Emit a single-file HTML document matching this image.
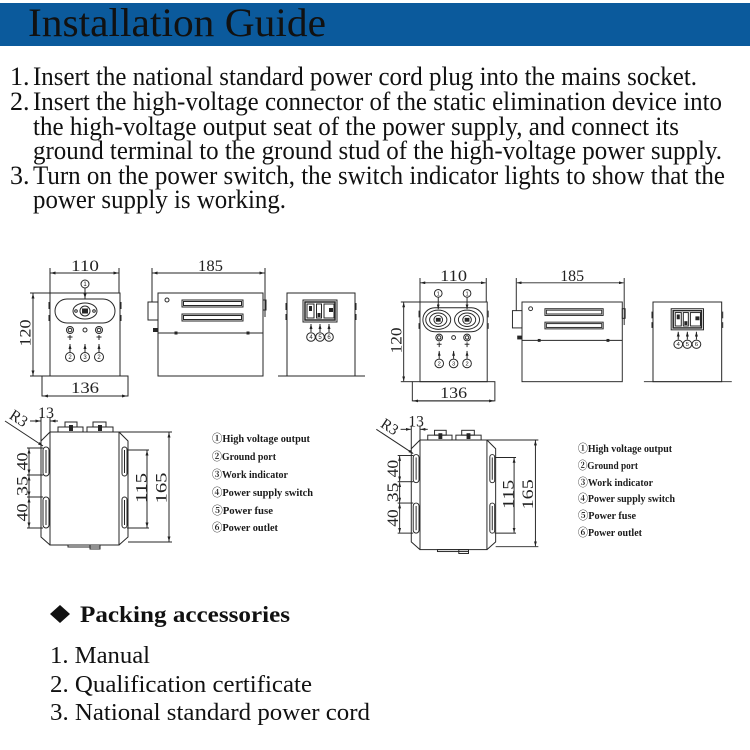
<!DOCTYPE html>
<html><head><meta charset="utf-8">
<style>
html,body{margin:0;padding:0;background:#fff;}
svg{display:block}
.t{font-family:"Liberation Serif","Noto Serif CJK SC",serif;fill:#111}
.g{font-family:"Liberation Serif","Noto Serif CJK SC",serif;fill:#1a1a1a;font-weight:bold;font-size:11px}
.d{font-family:"Liberation Serif",serif;fill:#222;font-size:16px}
.n{font-family:"Liberation Sans",sans-serif;fill:#222;font-size:6px;text-anchor:middle}
.l{fill:none;stroke:#262626;stroke-width:1}
.f{fill:#262626;stroke:none}
</style></head><body>
<svg width="750" height="750" viewBox="0 0 750 750" xmlns="http://www.w3.org/2000/svg">
<defs>
<marker id="ar" markerWidth="5" markerHeight="3" refX="5" refY="1.5" orient="auto-start-reverse" markerUnits="userSpaceOnUse"><path d="M0,0 L5,1.5 L0,3z" fill="#222"/></marker>
</defs>

<!-- Header -->
<rect x="0" y="3" width="750" height="43" fill="#0b5a9c"/>
<text class="t" x="28" y="36" font-size="40" textLength="298" lengthAdjust="spacingAndGlyphs">Installation Guide</text>

<!-- Instructions -->
<g class="t" font-size="26">
<text x="10" y="85">1.</text>
<text x="33" y="85" textLength="664" lengthAdjust="spacingAndGlyphs">Insert the national standard power cord plug into the mains socket.</text>
<text x="10" y="110">2.</text>
<text x="33" y="110" textLength="689" lengthAdjust="spacingAndGlyphs">Insert the high-voltage connector of the static elimination device into</text>
<text x="33" y="135" textLength="646" lengthAdjust="spacingAndGlyphs">the high-voltage output seat of the power supply, and connect its</text>
<text x="33" y="159" textLength="689" lengthAdjust="spacingAndGlyphs">ground terminal to the ground stud of the high-voltage power supply.</text>
<text x="10" y="184">3.</text>
<text x="33" y="184" textLength="692" lengthAdjust="spacingAndGlyphs">Turn on the power switch, the switch indicator lights to show that the</text>
<text x="33" y="208" textLength="253" lengthAdjust="spacingAndGlyphs">power supply is working.</text>
</g>

<!-- ===== LEFT FRONT VIEW ===== -->
<g transform="translate(50,293)">
 <g class="l">
  <line x1="0" y1="-25" x2="0" y2="0"/>
  <line x1="69" y1="-25" x2="69" y2="0"/>
  <line x1="0.5" y1="-20" x2="68.5" y2="-20" marker-start="url(#ar)" marker-end="url(#ar)"/>
  <line x1="-20" y1="0" x2="0" y2="0"/>
  <line x1="-20" y1="83" x2="-8" y2="83"/>
  <line x1="-17" y1="0.5" x2="-17" y2="82.5" marker-start="url(#ar)" marker-end="url(#ar)"/>
  <rect x="0" y="0" width="70" height="83"/>
  <rect x="-8" y="83" width="86" height="20"/>
  <line x1="-7" y1="103" x2="77" y2="103" marker-start="url(#ar)" marker-end="url(#ar)"/>
  <line x1="-1" y1="9" x2="-1" y2="16"/><line x1="-1" y1="22" x2="-1" y2="28"/>
  <line x1="71" y1="9" x2="71" y2="16"/><line x1="71" y1="22" x2="71" y2="28"/>
  <rect x="5" y="6" width="60" height="24" rx="12"/>
  <ellipse cx="35" cy="18" rx="12" ry="8"/>
  <circle cx="35" cy="18" r="5"/>
  <circle cx="26" cy="18" r="1.3"/><circle cx="44" cy="18" r="1.3"/>
  <circle cx="35" cy="-9" r="4"/>
  <line x1="35" y1="-5" x2="35" y2="5.5" marker-end="url(#ar)"/>
  <circle cx="20" cy="37" r="3.5"/><circle cx="20" cy="37" r="1.8"/>
  <circle cx="35" cy="37" r="2"/>
  <circle cx="49" cy="37" r="3.5"/><circle cx="49" cy="37" r="1.8"/>
  <line x1="20" y1="42" x2="20" y2="47"/><line x1="17.5" y1="44" x2="22.5" y2="44"/>
  <line x1="49" y1="42" x2="49" y2="47"/><line x1="46.5" y1="44" x2="51.5" y2="44"/>
  <line x1="20" y1="51" x2="20" y2="59" marker-start="url(#ar)"/>
  <line x1="35" y1="51" x2="35" y2="59" marker-start="url(#ar)"/>
  <line x1="49" y1="51" x2="49" y2="59" marker-start="url(#ar)"/>
  <circle cx="20" cy="64" r="4.5"/><circle cx="35" cy="64" r="4.5"/><circle cx="49" cy="64" r="4.5"/>
 </g>
 <rect class="f" x="32" y="15.5" width="6" height="5"/>
 <text class="n" x="35" y="-7">1</text>
 <text class="n" x="20" y="66">2</text><text class="n" x="35" y="66">3</text><text class="n" x="49" y="66">2</text>
 <text class="d" x="21" y="-22" textLength="28" lengthAdjust="spacingAndGlyphs">110</text>
 <text class="d" x="21" y="100" textLength="28" lengthAdjust="spacingAndGlyphs">136</text>
 <text class="d" transform="translate(-19.5,40) rotate(-90)" x="-13.5" y="0" textLength="27" lengthAdjust="spacingAndGlyphs">120</text>
</g>

<!-- ===== RIGHT FRONT VIEW ===== -->
<g transform="translate(420,302) scale(0.96)">
 <g class="l">
  <line x1="0" y1="-25" x2="0" y2="0"/>
  <line x1="69" y1="-25" x2="69" y2="0"/>
  <line x1="0.5" y1="-20" x2="68.5" y2="-20" marker-start="url(#ar)" marker-end="url(#ar)"/>
  <line x1="-20" y1="0" x2="0" y2="0"/>
  <line x1="-20" y1="83" x2="-8" y2="83"/>
  <line x1="-17" y1="0.5" x2="-17" y2="82.5" marker-start="url(#ar)" marker-end="url(#ar)"/>
  <rect x="0" y="0" width="70" height="83"/>
  <rect x="-8" y="83" width="86" height="20"/>
  <line x1="-7" y1="103" x2="77" y2="103" marker-start="url(#ar)" marker-end="url(#ar)"/>
  <line x1="-1" y1="9" x2="-1" y2="16"/><line x1="-1" y1="22" x2="-1" y2="28"/>
  <line x1="71" y1="9" x2="71" y2="16"/><line x1="71" y1="22" x2="71" y2="28"/>
  <rect x="3" y="6" width="63" height="25" rx="12.5"/>
  <ellipse cx="19" cy="18.5" rx="13" ry="10"/><ellipse cx="19" cy="18.5" rx="9" ry="7"/><circle cx="19" cy="18.5" r="4.5"/>
  <ellipse cx="49" cy="18.5" rx="13" ry="10"/><ellipse cx="49" cy="18.5" rx="9" ry="7"/><circle cx="49" cy="18.5" r="4.5"/>
  <circle cx="19" cy="-9" r="4"/><circle cx="49" cy="-9" r="4"/>
  <line x1="19" y1="-5" x2="19" y2="7.5" marker-end="url(#ar)"/>
  <line x1="49" y1="-5" x2="49" y2="7.5" marker-end="url(#ar)"/>
  <circle cx="20" cy="37" r="3.5"/><circle cx="20" cy="37" r="1.8"/>
  <circle cx="35" cy="37" r="2"/>
  <circle cx="49" cy="37" r="3.5"/><circle cx="49" cy="37" r="1.8"/>
  <line x1="20" y1="42" x2="20" y2="47"/><line x1="17.5" y1="44" x2="22.5" y2="44"/>
  <line x1="49" y1="42" x2="49" y2="47"/><line x1="46.5" y1="44" x2="51.5" y2="44"/>
  <line x1="20" y1="51" x2="20" y2="59" marker-start="url(#ar)"/>
  <line x1="35" y1="51" x2="35" y2="59" marker-start="url(#ar)"/>
  <line x1="49" y1="51" x2="49" y2="59" marker-start="url(#ar)"/>
  <circle cx="20" cy="64" r="4.5"/><circle cx="35" cy="64" r="4.5"/><circle cx="49" cy="64" r="4.5"/>
 </g>
 <rect class="f" x="16.5" y="16.5" width="5" height="4"/>
 <rect class="f" x="46.5" y="16.5" width="5" height="4"/>
 <text class="n" x="19" y="-7">1</text><text class="n" x="49" y="-7">1</text>
 <text class="n" x="20" y="66">2</text><text class="n" x="35" y="66">3</text><text class="n" x="49" y="66">2</text>
 <text class="d" x="21" y="-22" textLength="28" lengthAdjust="spacingAndGlyphs">110</text>
 <text class="d" x="21" y="100" textLength="28" lengthAdjust="spacingAndGlyphs">136</text>
 <text class="d" transform="translate(-19.5,40) rotate(-90)" x="-13.5" y="0" textLength="27" lengthAdjust="spacingAndGlyphs">120</text>
</g>

<!-- ===== SIDE VIEWS ===== -->
<g transform="translate(158,293)">
 <g class="l">
  <line x1="-6" y1="-25" x2="-6" y2="9"/>
  <line x1="107" y1="-25" x2="107" y2="24"/>
  <line x1="-5.5" y1="-20" x2="106.5" y2="-20" marker-start="url(#ar)" marker-end="url(#ar)"/>
  <rect x="0" y="0" width="105" height="83"/>
  <line x1="0" y1="40" x2="105" y2="40"/>
  <rect x="-10" y="9" width="10" height="18"/>
  <rect x="24" y="7" width="61" height="7"/><rect x="25.5" y="8.5" width="58" height="4"/>
  <rect x="24" y="21" width="61" height="7"/><rect x="25.5" y="22.5" width="58" height="4"/>
  <circle cx="9" cy="7" r="2"/>
  <rect x="105" y="7" width="3" height="10"/>
 </g>
 <rect class="f" x="-5" y="35" width="5" height="4"/>
 <rect class="f" x="16.5" y="38.5" width="3" height="3"/>
 <rect class="f" x="88.5" y="38.5" width="3" height="3"/>
 <text class="d" x="40" y="-22" textLength="25" lengthAdjust="spacingAndGlyphs">185</text>
</g>
<g transform="translate(522,302) scale(0.955,0.96)">
 <g class="l">
  <line x1="-6" y1="-25" x2="-6" y2="9"/>
  <line x1="107" y1="-25" x2="107" y2="24"/>
  <line x1="-5.5" y1="-20" x2="106.5" y2="-20" marker-start="url(#ar)" marker-end="url(#ar)"/>
  <rect x="0" y="0" width="105" height="83"/>
  <line x1="0" y1="40" x2="105" y2="40"/>
  <rect x="-10" y="9" width="10" height="18"/>
  <rect x="24" y="7" width="61" height="7"/><rect x="25.5" y="8.5" width="58" height="4"/>
  <rect x="24" y="21" width="61" height="7"/><rect x="25.5" y="22.5" width="58" height="4"/>
  <circle cx="9" cy="7" r="2"/>
  <rect x="105" y="7" width="3" height="10"/>
 </g>
 <rect class="f" x="-5" y="35" width="5" height="4"/>
 <rect class="f" x="16.5" y="38.5" width="3" height="3"/>
 <rect class="f" x="88.5" y="38.5" width="3" height="3"/>
 <text class="d" x="40" y="-22" textLength="25" lengthAdjust="spacingAndGlyphs">185</text>
</g>

<!-- ===== REAR VIEWS ===== -->
<g transform="translate(287,293)">
 <g class="l">
  <rect x="0" y="0" width="68" height="83"/>
  <line x1="-9" y1="83" x2="78" y2="83"/>
  <rect x="16" y="7" width="34" height="22"/>
  <rect x="18" y="9" width="30" height="18" stroke-width="1.5"/>
  <rect x="20" y="11" width="7" height="14"/>
  <rect x="29.5" y="11" width="5" height="14"/>
  <rect x="37" y="11" width="10" height="14"/>
  <line x1="24" y1="31" x2="24" y2="39" marker-start="url(#ar)"/>
  <line x1="33" y1="31" x2="33" y2="39" marker-start="url(#ar)"/>
  <line x1="42" y1="31" x2="42" y2="39" marker-start="url(#ar)"/>
  <circle cx="24" cy="44" r="4.3"/><circle cx="33" cy="44" r="4.3"/><circle cx="42" cy="44" r="4.3"/>
  <line x1="-1" y1="10" x2="-1" y2="17"/><line x1="-1" y1="21" x2="-1" y2="27"/>
  <line x1="69" y1="10" x2="69" y2="17"/><line x1="69" y1="21" x2="69" y2="27"/>
 </g>
 <rect class="f" x="22" y="13" width="3" height="5"/>
 <rect class="f" x="30.5" y="20" width="3" height="4"/>
 <rect class="f" x="42" y="15" width="4" height="4"/>
 <text class="n" x="24" y="46">4</text><text class="n" x="33" y="46">5</text><text class="n" x="42" y="46">6</text>
</g>
<g transform="translate(653,302) scale(1.01,0.96)">
 <g class="l">
  <rect x="0" y="0" width="68" height="83"/>
  <line x1="-9" y1="83" x2="78" y2="83"/>
  <rect x="18" y="7" width="32" height="22"/>
  <rect x="20" y="9" width="28" height="18" stroke-width="1.5"/>
  <rect x="22" y="11" width="6" height="14"/>
  <rect x="30" y="11" width="5" height="14"/>
  <rect x="37" y="11" width="10" height="14"/>
  <line x1="25" y1="31" x2="25" y2="39" marker-start="url(#ar)"/>
  <line x1="34" y1="31" x2="34" y2="39" marker-start="url(#ar)"/>
  <line x1="43" y1="31" x2="43" y2="39" marker-start="url(#ar)"/>
  <circle cx="25" cy="44" r="4.3"/><circle cx="34" cy="44" r="4.3"/><circle cx="43" cy="44" r="4.3"/>
  <line x1="-1" y1="10" x2="-1" y2="17"/><line x1="-1" y1="21" x2="-1" y2="27"/>
  <line x1="69" y1="10" x2="69" y2="17"/><line x1="69" y1="21" x2="69" y2="27"/>
 </g>
 <rect class="f" x="23.5" y="13" width="3" height="5"/>
 <rect class="f" x="31" y="20" width="3" height="4"/>
 <rect class="f" x="42" y="15" width="4" height="4"/>
 <text class="n" x="25" y="46">4</text><text class="n" x="34" y="46">5</text><text class="n" x="43" y="46">6</text>
</g>

<!-- ===== TOP VIEWS ===== -->
<g transform="translate(50,432)">
 <g class="l">
  <rect x="0" y="0" width="69" height="113"/>
  <polyline points="0,0 -9,9 -9,105 0,113"/>
  <polyline points="69,0 78,9 78,105 69,113"/>
  <rect x="8" y="-5" width="25" height="5"/><rect x="15" y="-10" width="12" height="5"/>
  <rect x="37" y="-5" width="26" height="5"/><rect x="43" y="-10" width="13" height="5"/>
  <rect x="18" y="113" width="32" height="2"/><rect x="40" y="113" width="10" height="4"/>
  <rect x="-7" y="15" width="6" height="29" rx="3"/><line x1="-4" y1="18" x2="-4" y2="41"/>
  <rect x="-7" y="65" width="6" height="31" rx="3"/><line x1="-4" y1="68" x2="-4" y2="93"/>
  <rect x="72" y="15" width="5" height="29" rx="2.5"/><line x1="74.5" y1="18" x2="74.5" y2="41"/>
  <rect x="72" y="65" width="5" height="31" rx="2.5"/><line x1="74.5" y1="68" x2="74.5" y2="93"/>
  <line x1="-23" y1="16" x2="-7" y2="16"/><line x1="-23" y1="43" x2="-7" y2="43"/>
  <line x1="-23" y1="65" x2="-7" y2="65"/><line x1="-23" y1="96" x2="-7" y2="96"/>
  <line x1="-21" y1="16.5" x2="-21" y2="42.5" marker-start="url(#ar)" marker-end="url(#ar)"/>
  <line x1="-21" y1="43.5" x2="-21" y2="64.5" marker-start="url(#ar)" marker-end="url(#ar)"/>
  <line x1="-21" y1="65.5" x2="-21" y2="95.5" marker-start="url(#ar)" marker-end="url(#ar)"/>
  <line x1="77" y1="18" x2="99" y2="18"/><line x1="77" y1="96" x2="99" y2="96"/>
  <line x1="97" y1="18.5" x2="97" y2="95.5" marker-start="url(#ar)" marker-end="url(#ar)"/>
  <line x1="69" y1="0" x2="122" y2="0"/><line x1="78" y1="110" x2="122" y2="110"/>
  <line x1="119" y1="0.5" x2="119" y2="109.5" marker-start="url(#ar)" marker-end="url(#ar)"/>
  <line x1="-9" y1="-15" x2="-9" y2="9"/><line x1="0" y1="-15" x2="0" y2="0"/>
  <line x1="-20" y1="-11" x2="-9.5" y2="-11" marker-end="url(#ar)"/>
  <line x1="8" y1="-11" x2="0.5" y2="-11" marker-end="url(#ar)"/>
  <line x1="-45" y1="-11" x2="-7" y2="14" marker-end="url(#ar)"/>
 </g>
 <rect class="f" x="19" y="-7" width="4" height="6"/>
 <rect class="f" x="48" y="-7" width="4" height="6"/>
 <text class="d" x="-12" y="-14" textLength="16" lengthAdjust="spacingAndGlyphs">13</text>
 <text class="d" transform="translate(-33,-11) rotate(33)" x="-9" y="2" textLength="18" lengthAdjust="spacingAndGlyphs">R3</text>
 <text class="d" transform="translate(-22.5,29.5) rotate(-90)" x="-9" y="0" textLength="18" lengthAdjust="spacingAndGlyphs">40</text>
 <text class="d" transform="translate(-22.5,54) rotate(-90)" x="-10" y="0" textLength="20" lengthAdjust="spacingAndGlyphs">35</text>
 <text class="d" transform="translate(-22.5,80.5) rotate(-90)" x="-9" y="0" textLength="18" lengthAdjust="spacingAndGlyphs">40</text>
 <text class="d" transform="translate(96.5,56) rotate(-90)" x="-15" y="0" textLength="30" lengthAdjust="spacingAndGlyphs">115</text>
 <text class="d" transform="translate(116.5,56) rotate(-90)" x="-15.5" y="0" textLength="31" lengthAdjust="spacingAndGlyphs">165</text>
</g>
<g transform="translate(420,440) scale(0.97)">
 <g class="l">
  <rect x="0" y="0" width="69" height="113"/>
  <polyline points="0,0 -9,9 -9,105 0,113"/>
  <polyline points="69,0 78,9 78,105 69,113"/>
  <rect x="8" y="-5" width="25" height="5"/><rect x="15" y="-10" width="12" height="5"/>
  <rect x="37" y="-5" width="26" height="5"/><rect x="43" y="-10" width="13" height="5"/>
  <rect x="18" y="113" width="32" height="2"/><rect x="40" y="113" width="10" height="4"/>
  <rect x="-7" y="15" width="6" height="29" rx="3"/><line x1="-4" y1="18" x2="-4" y2="41"/>
  <rect x="-7" y="65" width="6" height="31" rx="3"/><line x1="-4" y1="68" x2="-4" y2="93"/>
  <rect x="72" y="15" width="5" height="29" rx="2.5"/><line x1="74.5" y1="18" x2="74.5" y2="41"/>
  <rect x="72" y="65" width="5" height="31" rx="2.5"/><line x1="74.5" y1="68" x2="74.5" y2="93"/>
  <line x1="-23" y1="16" x2="-7" y2="16"/><line x1="-23" y1="43" x2="-7" y2="43"/>
  <line x1="-23" y1="65" x2="-7" y2="65"/><line x1="-23" y1="96" x2="-7" y2="96"/>
  <line x1="-21" y1="16.5" x2="-21" y2="42.5" marker-start="url(#ar)" marker-end="url(#ar)"/>
  <line x1="-21" y1="43.5" x2="-21" y2="64.5" marker-start="url(#ar)" marker-end="url(#ar)"/>
  <line x1="-21" y1="65.5" x2="-21" y2="95.5" marker-start="url(#ar)" marker-end="url(#ar)"/>
  <line x1="77" y1="18" x2="99" y2="18"/><line x1="77" y1="96" x2="99" y2="96"/>
  <line x1="97" y1="18.5" x2="97" y2="95.5" marker-start="url(#ar)" marker-end="url(#ar)"/>
  <line x1="69" y1="0" x2="122" y2="0"/><line x1="78" y1="110" x2="122" y2="110"/>
  <line x1="119" y1="0.5" x2="119" y2="109.5" marker-start="url(#ar)" marker-end="url(#ar)"/>
  <line x1="-9" y1="-15" x2="-9" y2="9"/><line x1="0" y1="-15" x2="0" y2="0"/>
  <line x1="-20" y1="-11" x2="-9.5" y2="-11" marker-end="url(#ar)"/>
  <line x1="8" y1="-11" x2="0.5" y2="-11" marker-end="url(#ar)"/>
  <line x1="-45" y1="-11" x2="-7" y2="14" marker-end="url(#ar)"/>
 </g>
 <rect class="f" x="19" y="-7" width="4" height="6"/>
 <rect class="f" x="48" y="-7" width="4" height="6"/>
 <text class="d" x="-12" y="-14" textLength="16" lengthAdjust="spacingAndGlyphs">13</text>
 <text class="d" transform="translate(-33,-11) rotate(33)" x="-9" y="2" textLength="18" lengthAdjust="spacingAndGlyphs">R3</text>
 <text class="d" transform="translate(-22.5,29.5) rotate(-90)" x="-9" y="0" textLength="18" lengthAdjust="spacingAndGlyphs">40</text>
 <text class="d" transform="translate(-22.5,54) rotate(-90)" x="-10" y="0" textLength="20" lengthAdjust="spacingAndGlyphs">35</text>
 <text class="d" transform="translate(-22.5,80.5) rotate(-90)" x="-9" y="0" textLength="18" lengthAdjust="spacingAndGlyphs">40</text>
 <text class="d" transform="translate(96.5,56) rotate(-90)" x="-15" y="0" textLength="30" lengthAdjust="spacingAndGlyphs">115</text>
 <text class="d" transform="translate(116.5,56) rotate(-90)" x="-15.5" y="0" textLength="31" lengthAdjust="spacingAndGlyphs">165</text>
</g>

<!-- ===== LEGENDS ===== -->
<g class="g">
<text x="212" y="442" textLength="98" lengthAdjust="spacingAndGlyphs">①High voltage output</text>
<text x="212" y="460" textLength="64" lengthAdjust="spacingAndGlyphs">②Ground port</text>
<text x="212" y="478" textLength="76" lengthAdjust="spacingAndGlyphs">③Work indicator</text>
<text x="212" y="496" textLength="101" lengthAdjust="spacingAndGlyphs">④Power supply switch</text>
<text x="212" y="514" textLength="61" lengthAdjust="spacingAndGlyphs">⑤Power fuse</text>
<text x="212" y="531" textLength="66" lengthAdjust="spacingAndGlyphs">⑥Power outlet</text>
</g>
<g class="g" font-size="10.5">
<text x="578" y="452" textLength="94" lengthAdjust="spacingAndGlyphs">①High voltage output</text>
<text x="578" y="469" textLength="60" lengthAdjust="spacingAndGlyphs">②Ground port</text>
<text x="578" y="486" textLength="75" lengthAdjust="spacingAndGlyphs">③Work indicator</text>
<text x="578" y="502" textLength="97" lengthAdjust="spacingAndGlyphs">④Power supply switch</text>
<text x="578" y="519" textLength="58" lengthAdjust="spacingAndGlyphs">⑤Power fuse</text>
<text x="578" y="536" textLength="64" lengthAdjust="spacingAndGlyphs">⑥Power outlet</text>
</g>

<!-- ===== PACKING ===== -->
<path d="M60,605 L70,614 L60,623 L50,614 Z" fill="#111"/>
<text class="t" x="80" y="622" font-size="23" font-weight="bold" textLength="210" lengthAdjust="spacingAndGlyphs">Packing accessories</text>
<g class="t" font-size="24">
<text x="50" y="663" textLength="100" lengthAdjust="spacingAndGlyphs">1. Manual</text>
<text x="50" y="692" textLength="262" lengthAdjust="spacingAndGlyphs">2. Qualification certificate</text>
<text x="50" y="720" textLength="320" lengthAdjust="spacingAndGlyphs">3. National standard power cord</text>
</g>
</svg>
</body></html>
